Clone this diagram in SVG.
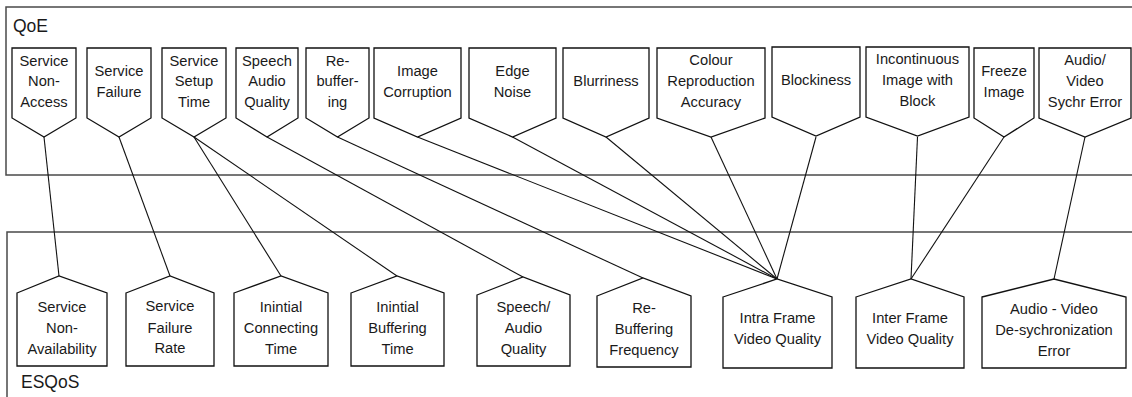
<svg xmlns="http://www.w3.org/2000/svg" width="1132" height="397" viewBox="0 0 1132 397">
  <style>
    .frame { fill: none; stroke: #4a4a4a; stroke-width: 1.5; }
    .node path { fill: #ffffff; stroke: #111111; stroke-width: 1.3; stroke-linejoin: miter; }
    .node text { font-family: "Liberation Sans", Arial, sans-serif; font-size: 14.7px; fill: #1a1a1a; text-anchor: middle; }
    .label { font-family: "Liberation Sans", Arial, sans-serif; font-size: 17.5px; fill: #1a1a1a; }
    #connectors line { stroke: #111111; stroke-width: 1.1; }
  </style>
  <rect width="1132" height="397" fill="#ffffff"/>

  <!-- layer frames -->
  <g id="frames">
    <rect class="frame" x="6" y="7" width="1140" height="168"/>
    <text class="label" x="13" y="32">QoE</text>
    <rect class="frame" x="7" y="232" width="1140" height="180"/>
    <text class="label" x="21" y="388">ESQoS</text>
  </g>

  <!-- QoE indicator to ESQoS metric links -->
  <g id="connectors">
    <line x1="44" y1="137" x2="59" y2="276"/>
    <line x1="119" y1="137" x2="170" y2="276"/>
    <line x1="194" y1="137" x2="281" y2="276"/>
    <line x1="194" y1="137" x2="397" y2="276"/>
    <line x1="267" y1="137" x2="523" y2="277"/>
    <line x1="337.5" y1="137" x2="643" y2="278"/>
    <line x1="417.5" y1="137" x2="777" y2="279"/>
    <line x1="512.5" y1="137" x2="777" y2="279"/>
    <line x1="606" y1="137" x2="777" y2="279"/>
    <line x1="711" y1="137" x2="777" y2="279"/>
    <line x1="816" y1="137" x2="777" y2="279"/>
    <line x1="917.5" y1="137" x2="911" y2="279"/>
    <line x1="1004" y1="137" x2="911" y2="279"/>
    <line x1="1085" y1="137" x2="1054" y2="279"/>
  </g>

  <!-- QoE indicators (pointing down) -->
  <g id="qoe-service-non-access" class="node">
    <path d="M12,48 H76 V118 L44,137 L12,118 Z"/>
    <text><tspan x="44" y="65.5">Service</tspan><tspan x="44" y="86">Non-</tspan><tspan x="44" y="107">Access</tspan></text>
  </g>
  <g id="qoe-service-failure" class="node">
    <path d="M87,48 H151 V118 L119,137 L87,118 Z"/>
    <text><tspan x="119" y="76">Service</tspan><tspan x="119" y="96.5">Failure</tspan></text>
  </g>
  <g id="qoe-service-setup-time" class="node">
    <path d="M162,48 H226 V118 L194,137 L162,118 Z"/>
    <text><tspan x="194" y="65.5">Service</tspan><tspan x="194" y="86">Setup</tspan><tspan x="194" y="107">Time</tspan></text>
  </g>
  <g id="qoe-speech-audio-quality" class="node">
    <path d="M236,48 H298 V118 L267,137 L236,118 Z"/>
    <text><tspan x="267" y="65.5">Speech</tspan><tspan x="267" y="86">Audio</tspan><tspan x="267" y="107">Quality</tspan></text>
  </g>
  <g id="qoe-rebuffering" class="node">
    <path d="M306,48 H369 V118 L337.5,137 L306,118 Z"/>
    <text><tspan x="337.5" y="65.5">Re-</tspan><tspan x="337.5" y="86">buffer-</tspan><tspan x="337.5" y="107">ing</tspan></text>
  </g>
  <g id="qoe-image-corruption" class="node">
    <path d="M374,48 H461 V118 L417.5,137 L374,118 Z"/>
    <text><tspan x="417.5" y="76">Image</tspan><tspan x="417.5" y="96.5">Corruption</tspan></text>
  </g>
  <g id="qoe-edge-noise" class="node">
    <path d="M469,48 H556 V118 L512.5,137 L469,118 Z"/>
    <text><tspan x="512.5" y="76">Edge</tspan><tspan x="512.5" y="96.5">Noise</tspan></text>
  </g>
  <g id="qoe-blurriness" class="node">
    <path d="M563,48 H649 V118 L606,137 L563,118 Z"/>
    <text><tspan x="606" y="86">Blurriness</tspan></text>
  </g>
  <g id="qoe-colour-reproduction" class="node">
    <path d="M657,48 H765 V118 L711,137 L657,118 Z"/>
    <text><tspan x="711" y="65">Colour</tspan><tspan x="711" y="86">Reproduction</tspan><tspan x="711" y="107">Accuracy</tspan></text>
  </g>
  <g id="qoe-blockiness" class="node">
    <path d="M772,47 H860 V117 L816,136 L772,117 Z"/>
    <text><tspan x="816" y="85">Blockiness</tspan></text>
  </g>
  <g id="qoe-incontinuous-image" class="node">
    <path d="M866,47 H969 V117 L917.5,136 L866,117 Z"/>
    <text><tspan x="917.5" y="64">Incontinuous</tspan><tspan x="917.5" y="85">Image with</tspan><tspan x="917.5" y="106">Block</tspan></text>
  </g>
  <g id="qoe-freeze-image" class="node">
    <path d="M974,48 H1034 V118 L1004,137 L974,118 Z"/>
    <text><tspan x="1004" y="76">Freeze</tspan><tspan x="1004" y="96.5">Image</tspan></text>
  </g>
  <g id="qoe-av-sync-error" class="node">
    <path d="M1039,48 H1131 V118 L1085,137 L1039,118 Z"/>
    <text><tspan x="1085" y="65">Audio/</tspan><tspan x="1085" y="86">Video</tspan><tspan x="1085" y="107">Sychr Error</tspan></text>
  </g>

  <!-- ESQoS metrics (pointing up) -->
  <g id="esqos-service-non-availability" class="node">
    <path d="M17,293 L59,276 L107,293 V366 H17 Z"/>
    <text><tspan x="62" y="312">Service</tspan><tspan x="62" y="333">Non-</tspan><tspan x="62" y="354">Availability</tspan></text>
  </g>
  <g id="esqos-service-failure-rate" class="node">
    <path d="M126,293 L170,276 L214,293 V366 H126 Z"/>
    <text><tspan x="170" y="311">Service</tspan><tspan x="170" y="332.5">Failure</tspan><tspan x="170" y="353">Rate</tspan></text>
  </g>
  <g id="esqos-initial-connecting-time" class="node">
    <path d="M234,293 L281,276 L328,293 V366 H234 Z"/>
    <text><tspan x="281" y="311.5">Inintial</tspan><tspan x="281" y="332.5">Connecting</tspan><tspan x="281" y="353.5">Time</tspan></text>
  </g>
  <g id="esqos-initial-buffering-time" class="node">
    <path d="M351,293 L397,276 L444,293 V366 H351 Z"/>
    <text><tspan x="397.5" y="311.5">Inintial</tspan><tspan x="397.5" y="332.5">Buffering</tspan><tspan x="397.5" y="353.5">Time</tspan></text>
  </g>
  <g id="esqos-speech-audio-quality" class="node">
    <path d="M477,295 L523,277 L570,295 V366 H477 Z"/>
    <text><tspan x="523.5" y="312">Speech/</tspan><tspan x="523.5" y="333">Audio</tspan><tspan x="523.5" y="354">Quality</tspan></text>
  </g>
  <g id="esqos-rebuffering-frequency" class="node">
    <path d="M597,296 L643,278 L691,296 V367 H597 Z"/>
    <text><tspan x="644" y="313">Re-</tspan><tspan x="644" y="334">Buffering</tspan><tspan x="644" y="355">Frequency</tspan></text>
  </g>
  <g id="esqos-intra-frame-quality" class="node">
    <path d="M723,297 L777,279 L832,297 V368 H723 Z"/>
    <text><tspan x="777.5" y="323">Intra Frame</tspan><tspan x="777.5" y="344">Video Quality</tspan></text>
  </g>
  <g id="esqos-inter-frame-quality" class="node">
    <path d="M856,297 L911,279 L964,297 V368 H856 Z"/>
    <text><tspan x="910" y="323">Inter Frame</tspan><tspan x="910" y="344">Video Quality</tspan></text>
  </g>
  <g id="esqos-av-desync-error" class="node">
    <path d="M982,297 L1054,279 L1126,297 V368 H982 Z"/>
    <text><tspan x="1054" y="314">Audio - Video</tspan><tspan x="1054" y="335">De-sychronization</tspan><tspan x="1054" y="356">Error</tspan></text>
  </g>
</svg>
